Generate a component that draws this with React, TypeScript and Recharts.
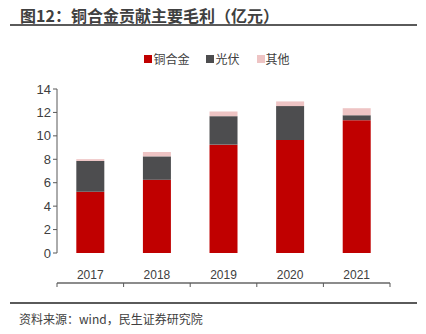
import { Bar, BarChart, Legend, XAxis, YAxis } from "recharts"

const years = ["2017", "2018", "2019", "2020", "2021"]
const copper = [5.23, 6.25, 9.25, 9.64, 11.34]
const solar = [2.63, 2.0, 2.43, 2.9, 0.42]
const other = [0.15, 0.37, 0.4, 0.4, 0.6]
const yTicks = [0, 2, 4, 6, 8, 10, 12, 14]
const edgeTicks = [0, 1, 2, 3, 4, 5]
const seriesOrder = ["copper", "solar", "other"]

const data = years.map((year, i) => ({
  year,
  edge: i + 0.5,
  copper: copper[i],
  solar: solar[i],
  other: other[i],
}))

const font = "'Liberation Sans', Arial, 'Noto Sans CJK SC', sans-serif"
const cjk = "'Noto Sans CJK SC', sans-serif"

const LegendRow = ({ payload }: any) => {
  const items = [...(payload || [])].sort(
    (a: any, b: any) => seriesOrder.indexOf(String(a.dataKey)) - seriesOrder.indexOf(String(b.dataKey))
  )
  return (
    <div
      style={{
        display: "flex",
        justifyContent: "center",
        alignItems: "center",
        height: 19,
        gap: 17,
        paddingLeft: 44,
        fontSize: 12,
        fontFamily: cjk,
        color: "#404040",
      }}
    >
      {items.map((item: any) => (
        <div key={item.dataKey} style={{ display: "flex", alignItems: "center", gap: 1 }}>
          <span style={{ width: 8, height: 8, background: item.color, display: "inline-block" }} />
          <span style={{ lineHeight: "19px" }}>{item.value}</span>
        </div>
      ))}
    </div>
  )
}

const App = () => {
  return (
    <div
      style={{
        position: "relative",
        width: 426,
        height: 334,
        margin: -8,
        background: "#fff",
        fontFamily: cjk,
      }}
    >
      <div
        style={{
          position: "absolute",
          left: 20,
          top: 5,
          fontSize: 16,
          fontWeight: 700,
          color: "#404040",
          lineHeight: "20px",
        }}
      >
        图12：铜合金贡献主要毛利（亿元）
      </div>
      <div style={{ position: "absolute", left: 10, top: 24, width: 407, height: 2, background: "#5a5a5a" }} />

      <div style={{ position: "absolute", left: 0, top: 0 }}>
        <BarChart
          width={426}
          height={290}
          data={data}
          barCategoryGap="29%"
          margin={{ top: 70, right: 36, left: 0, bottom: 6 }}
        >
          <Legend verticalAlign="top" align="center" content={LegendRow} wrapperStyle={{ top: 49 }} />
          <XAxis
            xAxisId="edge"
            type="number"
            dataKey="edge"
            domain={[0, 5]}
            ticks={edgeTicks}
            interval={0}
            height={1}
            axisLine={{ stroke: "#8c8c8c", strokeWidth: 2 }}
            tickLine={{ stroke: "#595959" }}
            tickSize={4}
            tickFormatter={() => ""}
          />
          <XAxis
            xAxisId="cat"
            dataKey="year"
            height={30}
            axisLine={false}
            tickLine={false}
            tick={{ fill: "#404040", fontSize: 12, fontFamily: font }}
            tickMargin={11}
          />
          <YAxis
            domain={[0, 14]}
            ticks={yTicks}
            interval={0}
            width={57}
            axisLine={{ stroke: "#595959" }}
            tickLine={{ stroke: "#595959" }}
            tickSize={4}
            tick={{ fill: "#404040", fontSize: 13, fontFamily: font }}
          />
          <Bar xAxisId="cat" dataKey="copper" name="铜合金" stackId="a" fill="#C00000" isAnimationActive={false} />
          <Bar xAxisId="cat" dataKey="solar" name="光伏" stackId="a" fill="#4D4D4F" isAnimationActive={false} />
          <Bar xAxisId="cat" dataKey="other" name="其他" stackId="a" fill="#EEC4C4" isAnimationActive={false} />
        </BarChart>
      </div>

      <div style={{ position: "absolute", left: 10, top: 302, width: 407, height: 2, background: "#5a5a5a" }} />
      <div
        style={{
          position: "absolute",
          left: 19,
          top: 311,
          fontSize: 12,
          color: "#404040",
          lineHeight: "16px",
          whiteSpace: "nowrap",
        }}
      >
        资料来源：wind，民生证券研究院
      </div>
    </div>
  )
}

export default App
